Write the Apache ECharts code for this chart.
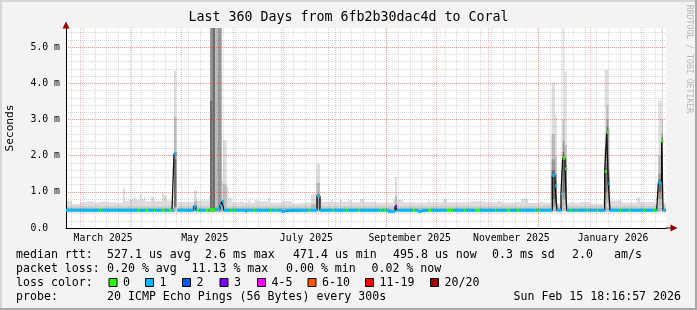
<!DOCTYPE html>
<html><head><meta charset="utf-8">
<script src="https://cdn.jsdelivr.net/npm/echarts@6/dist/echarts.min.js"></script>
<style>html,body{margin:0;padding:0;background:#f3f3f3}#c{width:697px;height:310px}</style>
</head><body><div id="c"></div>
<script>
// ---------- time frame ----------
const DAY = 86400000;
const T0 = Date.UTC(2025, 1, 20, 18, 16, 57);   // start of the 360 day window
const SPAN_DAYS = 360;
const T1 = T0 + SPAN_DAYS * DAY;

// ---------- axis ticks / labels ----------
const monthStarts = ['2025-03-01','2025-04-01','2025-05-01','2025-06-01','2025-07-01','2025-08-01',
  '2025-09-01','2025-10-01','2025-11-01','2025-12-01','2026-01-01','2026-02-01'];
const firstMonday = '2025-02-24';
const xLabelDates = ['2025-03-15','2025-05-15','2025-07-15','2025-09-15','2025-11-15','2026-01-15'];
const xLabels = ['March 2025','May 2025','July 2025','September 2025','November 2025','January 2026'];
const yMax = 5.53; // ms

// ---------- data (days since start, values in ms) ----------
// smoke layers: [dayFrom, dayTo, low, high]
const smokeLight = [
  [0,3.6,0.43,0.75],[3.6,8.4,0.43,0.66],[8.4,12.6,0.43,0.71],[12.6,16.8,0.43,0.74],[16.8,19.8,0.43,0.70],
  [19.8,25.8,0.43,0.73],[25.8,30.6,0.43,0.71],[30.6,34.2,0.43,0.70],[34.2,35.4,0.43,1.09],[35.4,37.8,0.43,0.75],
  [37.8,40.8,0.43,0.79],[40.8,42,0.43,0.84],[42,44.4,0.43,0.78],[44.4,45.3,0.43,0.94],[45.3,46.8,0.43,0.79],
  [46.8,47.7,0.43,0.86],[47.7,51,0.43,0.74],[51,52.8,0.43,0.86],[52.8,57.6,0.43,0.75],[57.6,58.8,0.43,0.97],
  [58.8,60.6,0.43,0.90],[60.6,64.8,0.43,0.76],[64.8,66.2,0.43,4.35],
  [66.9,76.8,0.43,0.72],[76.8,78.6,0.43,1.04],[78.6,85.8,0.43,0.76],[85.8,86.4,0.43,0.9],
  [86.4,93.4,0.43,5.6],[93.4,94.2,0.43,1.3],[94.2,96.4,0.43,2.43],[96.4,97.5,0.43,1.14],[97.5,99.4,0.43,0.84],
  [99.4,104.4,0.43,0.71],[104.4,106.2,0.43,0.74],[106.2,109.2,0.43,0.70],[109.2,110.4,0.43,0.76],
  [110.4,113.4,0.43,0.70],[113.4,114.6,0.43,0.79],[114.6,121.2,0.43,0.74],[121.2,122.4,0.43,0.82],
  [122.4,129.6,0.43,0.70],[129.6,135.6,0.43,0.74],[135.6,142.2,0.43,0.68],[142.2,147,0.43,0.71],
  [147,150.3,0.43,0.94],[150.3,152.4,0.43,1.78],[152.4,153.6,0.43,0.80],[153.6,158.4,0.43,0.72],
  [158.4,160.2,0.43,0.76],[160.2,164.4,0.43,0.72],[164.4,165.6,0.43,0.78],[165.6,169.2,0.43,0.72],
  [169.2,171.6,0.43,0.76],[171.6,176.4,0.43,0.71],[176.4,178.8,0.43,0.80],[178.8,186,0.43,0.72],
  [186,196.2,0.43,0.70],[196.2,197.4,0.43,0.78],[197.4,198.6,0.43,1.42],[198.6,202.2,0.43,0.78],
  [202.2,210.6,0.43,0.71],[210.6,217.2,0.43,0.70],[217.2,218.4,0.43,0.76],[218.4,226.2,0.43,0.71],
  [226.2,228.6,0.43,0.80],[228.6,242.4,0.43,0.71],[242.4,251.4,0.43,0.74],[251.4,258.6,0.43,0.71],
  [258.6,261.6,0.43,0.74],[261.6,270.6,0.43,0.70],[270.6,273,0.43,0.72],[273,277.2,0.43,0.81],
  [277.2,284.4,0.43,0.69],[284.4,286.2,0.43,0.73],[286.2,291.4,0.43,0.69],[291.4,293.4,0.43,4.02],
  [293.4,294.4,0.43,3.13],[294.4,297,0.43,0.69],[297,298,0.43,1.6],[298,299,0.43,5.6],[299,300.4,0.43,4.33],
  [300.4,303,0.43,0.69],[303,304.2,0.43,0.73],[304.2,308.4,0.43,0.69],[308.4,314.4,0.43,0.72],
  [314.4,322.2,0.43,0.67],[322.2,323.2,0.43,0.80],[323.2,325.4,0.43,4.37],[325.4,326.4,0.43,2.76],
  [326.4,333.4,0.43,0.76],[333.4,342.4,0.43,0.70],[342.4,344.4,0.43,0.85],[344.4,353.4,0.43,0.72],
  [353.4,355.4,0.43,0.66],[355.4,357.4,0.43,3.52],[357.4,358.2,0.43,5.6],[358.2,360,0.43,0.70]
];
const smokeMid = [
  [0,66.2,0.46,0.57],[66.9,86.4,0.46,0.57],[93.4,360,0.46,0.57],
  [64.8,66.2,0.5,3.08],[76.8,78.6,0.5,0.75],[94.2,96.4,0.5,1.2],[147,150.3,0.5,0.66],[150.3,152.4,0.5,1.25],
  [197.4,198.6,0.5,0.9],[291.4,293.4,0.5,2.6],[293.4,294.4,0.5,2.0],[297,298,0.5,1.1],[298,299,0.6,3.0],
  [299,300.4,0.6,2.3],[323.2,324.4,0.6,2.2],[324.4,325.4,0.7,3.4],[325.4,326.4,0.6,1.6],
  [355.4,357.4,0.6,2.0],[357.4,358.2,0.8,3.0],[89.4,91,0.45,5.6]
];
const smokeDark = [
  [64.8,66.2,0.55,2.1],[150.3,152.4,0.55,0.95],[291.4,293.4,0.6,1.9],[293.4,294.4,0.6,1.5],
  [298,299,0.8,2.4],[299,300.4,0.8,1.9],[323.2,324.4,0.8,1.8],[324.4,325.4,1.0,3.0],[325.4,326.4,0.8,1.4],
  [355.4,357.4,0.8,1.5],[357.4,358.2,1.2,2.6],[86.4,87.8,0.45,5.6],[91,93.4,0.45,5.6]
];
const smokeDarkest = [
  [64.8,66.2,0.6,1.9],[291.4,293.4,0.8,1.6],[293.4,294.4,0.7,1.3],[298,299,1.0,2.1],[299,300.4,1.0,1.75],
  [323.2,324.4,1.0,1.65],[324.4,325.4,1.2,2.8],[355.4,357.4,1.0,1.35],[357.4,358.2,1.6,2.5],
  [86.4,87.8,0.5,3.52],[87.8,89.4,0.45,5.6]
];
// median breakpoints: [day, median ms (null = no data), loss colour index] held until next breakpoint
const medianPts = [
  [0,0.49,1],[20.4,0.49,0],[21.3,0.49,1],[43.2,0.49,0],[44.2,0.49,1],[47.6,0.49,0],[49.2,0.49,1],
  [52.6,0.49,0],[53.6,0.49,1],[57.6,0.49,0],[59.2,0.49,1],[61.6,0.49,0],[63.6,0.49,1],
  [64.8,2.05,1],[66.2,null,1],[66.9,0.49,1],[76.6,0.6,1],[78,0.49,1],[78.6,0.49,0],[80,0.49,1],
  [83.6,0.49,0],[85.6,0.49,1],[86.4,0.5,0],[89.4,0.52,1],[92.4,0.62,1],[93.6,0.73,1],[94.8,0.49,1],
  [98.4,0.49,0],[99.4,0.49,1],[100.4,0.49,0],[101.4,0.49,1],[107.4,0.46,1],[108.4,0.49,1],
  [112.4,0.49,0],[113.4,0.49,1],[122.4,0.49,0],[123.4,0.49,1],[125.4,0.49,0],[126.4,0.49,1],
  [129.4,0.46,1],[131.4,0.49,1],[145.4,0.49,0],[146.4,0.49,1],[150.6,0.88,1],[152.4,0.49,1],
  [159.8,0.49,0],[160.8,0.49,1],[168,0.49,0],[168.9,0.49,1],[175.4,0.49,0],[176.4,0.49,1],
  [188.4,0.49,0],[189.4,0.49,1],[190.8,0.49,0],[192,0.49,1],[193.2,0.46,1],[197.4,0.6,3],[198.6,0.49,1],
  [208,0.49,0],[209.4,0.49,1],[211.2,0.46,1],[213.6,0.49,1],[217.4,0.49,0],[219.4,0.49,1],
  [228.4,0.49,0],[232.4,0.49,1],[238.4,0.49,0],[239.4,0.49,1],[245.4,0.49,0],[248.4,0.49,1],
  [257.4,0.49,0],[258.4,0.49,1],[264.4,0.49,0],[266.4,0.49,1],[270.4,0.49,0],[272,0.49,1],
  [281.4,0.49,0],[282.4,0.49,1],[283.4,0.49,0],[284.4,0.49,1],
  [291.8,1.45,1],[293.4,1.17,1],[294.6,0.49,1],[297,0.95,1],[298,1.93,0],[299.4,1.64,0],[300.4,0.49,1],
  [302.4,0.49,0],[303.4,0.49,1],[306.4,0.49,0],[307.4,0.49,1],[312.4,0.49,0],[313.4,0.49,1],
  [318.4,0.49,0],[319.4,0.49,1],[323.2,1.56,0],[324.4,2.64,0],[325.4,1.24,1],[326.4,0.49,1],
  [332.4,0.49,0],[333.4,0.49,1],[337.4,0.49,0],[338.4,0.49,1],[346.4,0.49,0],[347.4,0.49,1],
  [352.4,0.49,0],[353.4,0.49,1],[354.4,0.49,0],[355,0.49,1],[355.4,1.25,1],[357.4,2.39,0],[358.2,0.49,1]
];

// ---------- legend ----------
const titleText = 'Last 360 Days from 6fb2b30dac4d to Coral';
const rttStats = ['527.1 us avg','2.6 ms max','471.4 us min','495.8 us now','0.3 ms sd','2.0','am/s'];
const lossStats = ['0.20 % avg','11.13 % max','0.00 % min','0.02 % now'];
const lossLabels = ['0','1','2','3','4-5','6-10','11-19','20/20'];
const lossColors = ['#26ff00','#00b8ff','#0059ff','#7e00ff','#ff00ff','#ff5500','#ff0000','#a10000'];
const probeText = '20 ICMP Echo Pings (56 Bytes) every 300s';
const dateText = 'Sun Feb 15 18:16:57 2026';

// ---------- layout ----------
const rttX = [107,205,293,393,492,572,614];
const lossX = [107,191.5,286,371.5];
const swatchX = [108.5,145,182,219.5,257,307.5,365,430];
const rowY = [255,269,283,297];
const MONO = '"DejaVu Sans Mono", monospace';
const toT = d => T0 + d * DAY;

const labelTs = xLabelDates.map(s => Date.parse(s));
const monthTs = monthStarts.map(s => Date.parse(s));
const weekTs = [];
for (let t = Date.parse(firstMonday); t < T1; t += 7 * DAY) weekTs.push(t);

function rectSeries(items, color, z) {
  return {
    type: 'custom', z, silent: true, animation: false,
    data: items.map(s => [toT(s[0]), toT(s[1]), s[2], s[3]]),
    encode: { x: [0, 1], y: [2, 3] },
    renderItem(params, api) {
      const a = api.coord([api.value(0), api.value(2)]);
      const b = api.coord([api.value(1), api.value(3)]);
      const cs = params.coordSys;
      const shape = echarts.graphic.clipRectByRect(
        { x: a[0], y: b[1], width: b[0] - a[0], height: a[1] - b[1] },
        { x: cs.x, y: cs.y, width: cs.width, height: cs.height });
      return shape ? { type: 'rect', shape, style: { fill: color } } : null;
    }
  };
}
function vGridSeries(ts, color, z) {
  return {
    type: 'custom', z, silent: true, animation: false,
    data: ts.map(t => [t, 0]), encode: { x: 0, y: 1 },
    renderItem(params, api) {
      const cs = params.coordSys;
      const x = Math.round(api.coord([api.value(0), 0])[0]) + 0.5;
      return { type: 'line', shape: { x1: x, y1: cs.y, x2: x, y2: cs.y + cs.height },
        style: { stroke: color, lineWidth: 1, lineDash: [1, 1] } };
    }
  };
}

// median segments and line
const medSegs = [];
medianPts.forEach((p, i) => {
  if (p[1] == null) return;
  const end = i + 1 < medianPts.length ? medianPts[i + 1][0] : SPAN_DAYS;
  medSegs.push([toT(p[0]), toT(end), p[1], p[2]]);
});
const medLine = [];
medianPts.forEach((p, i) => {
  if (p[1] == null) {
    medLine.push([toT(p[0]), medianPts[i - 1][1]]);
    medLine.push([toT(p[0]), null]);
  } else medLine.push([toT(p[0]), p[1]]);
});
medLine.push([T1, medianPts[medianPts.length - 1][1]]);

// ---------- graphics (text) ----------
const font = '11.6px ' + MONO;
const g = [];
function txt(text, x, y, align) {
  g.push({ type: 'text', x, y, silent: true, z: 100,
    style: { text, font, fill: '#000', align: align || 'left', verticalAlign: 'middle',
      textAlign: align || 'left', textVerticalAlign: 'middle' } });
}
g.push({ type: 'rect', shape: { x: 0, y: 0, width: 697, height: 2 }, style: { fill: '#d6d6d6' }, silent: true });
g.push({ type: 'rect', shape: { x: 0, y: 0, width: 2, height: 310 }, style: { fill: '#d6d6d6' }, silent: true });
g.push({ type: 'rect', shape: { x: 0, y: 308, width: 697, height: 2 }, style: { fill: '#a8a8a8' }, silent: true });
g.push({ type: 'rect', shape: { x: 695, y: 0, width: 2, height: 310 }, style: { fill: '#a8a8a8' }, silent: true });
g.push({ type: 'text', x: 348.5, y: 18, silent: true,
  style: { text: titleText, font: '13.3px ' + MONO, fill: '#000', align: 'center', verticalAlign: 'middle',
    textAlign: 'center', textVerticalAlign: 'middle' } });
g.push({ type: 'text', x: 10, y: 128, rotation: Math.PI / 2, silent: true,
  style: { text: 'Seconds', font: '11.2px ' + MONO, fill: '#000', align: 'center', verticalAlign: 'middle',
    textAlign: 'center', textVerticalAlign: 'middle' } });
g.push({ type: 'text', x: 689, y: 59, rotation: -Math.PI / 2, silent: true,
  style: { text: 'RRDTOOL / TOBI OETIKER', font: '8.2px ' + MONO, fill: '#b8b8b8', align: 'center',
    verticalAlign: 'middle', textAlign: 'center', textVerticalAlign: 'middle' } });
txt('median rtt:', 16, rowY[0]);
rttStats.forEach((s, i) => txt(s, rttX[i], rowY[0]));
txt('packet loss:', 16, rowY[1]);
lossStats.forEach((s, i) => txt(s, lossX[i], rowY[1]));
txt('loss color:', 16, rowY[2]);
lossLabels.forEach((s, i) => {
  g.push({ type: 'rect', silent: true, z: 100,
    shape: { x: swatchX[i] + 0.5, y: rowY[2] - 4.5, width: 8, height: 8 },
    style: { fill: lossColors[i], stroke: '#000', lineWidth: 1 } });
  txt(s, swatchX[i] + 14.5, rowY[2]);
});
txt('probe:', 16, rowY[3]);
txt(probeText, 107, rowY[3]);
txt(dateText, 681, rowY[3], 'right');

const chart = echarts.init(document.getElementById('c'), null, { renderer: 'canvas', width: 697, height: 310 });
chart.setOption({
  animation: false,
  backgroundColor: '#f3f3f3',
  grid: { left: 66, top: 28, width: 600, height: 200, containLabel: false, outerBoundsMode: 'none',
    show: true, backgroundColor: '#ffffff', borderWidth: 0 },
  graphic: g,
  xAxis: [
    { type: 'value', min: T0, max: T1, z: 10,
      axisLine: { show: true, onZero: false, lineStyle: { color: '#000', width: 1 },
        symbol: ['none', 'rect'], symbolSize: [1, 6], symbolOffset: [0, 3] },
      axisTick: { show: false }, splitLine: { show: false }, minorTick: { show: false },
      axisLabel: { customValues: labelTs, formatter: v => xLabels[labelTs.indexOf(v)] || '',
        color: '#000', fontFamily: MONO, fontSize: 9.8, margin: 5, hideOverlap: false,
        showMinLabel: true, showMaxLabel: true } },
    { type: 'value', min: T0, max: T1, position: 'bottom', z: 11,
      axisLine: { show: true, onZero: false, symbol: ['none', 'triangle'], symbolSize: [7, 7], symbolOffset: [0, 8],
        lineStyle: { color: '#9a0000', width: 0 } },
      axisTick: { show: false }, axisLabel: { show: false }, splitLine: { show: false } }
  ],
  yAxis: [
    { type: 'value', min: 0, max: yMax, interval: 1, z: 10,
      axisLine: { show: true, onZero: false, lineStyle: { color: '#000', width: 1 },
        symbol: ['none', 'rect'], symbolSize: [1, 4], symbolOffset: [0, 2] },
      axisTick: { show: false },
      axisLabel: { formatter: v => v === 0 ? '0.0  ' : v.toFixed(1) + ' m', color: '#000', fontFamily: MONO,
        fontSize: 9.8, margin: 6, showMaxLabel: false },
      splitLine: { show: true, showMinLine: false, showMaxLine: false,
        lineStyle: { color: 'rgba(255,0,0,0.27)', width: 1, type: [1, 1] } } },
    { type: 'value', min: 0, max: yMax, interval: 0.2, z: 9, position: 'left',
      axisLine: { show: false }, axisTick: { show: false }, axisLabel: { show: false },
      splitLine: { show: true, showMinLine: false, showMaxLine: false,
        lineStyle: { color: 'rgba(128,128,128,0.3)', width: 1, type: [1, 1] } } },
    { type: 'value', min: 0, max: yMax, position: 'left', z: 11,
      axisLine: { show: true, onZero: false, symbol: ['none', 'triangle'], symbolSize: [7, 7], symbolOffset: [0, 3],
        lineStyle: { color: '#9a0000', width: 0 } },
      axisTick: { show: false }, axisLabel: { show: false }, splitLine: { show: false } }
  ],
  series: [
    rectSeries(smokeLight, '#dddddd', 2),
    rectSeries(smokeMid, '#bbbbbb', 3),
    rectSeries(smokeDark, '#999999', 4),
    rectSeries(smokeDarkest, '#6e6e6e', 5),
    vGridSeries(weekTs, 'rgba(128,128,128,0.3)', 9),
    vGridSeries(monthTs, 'rgba(255,0,0,0.27)', 9),
    { type: 'line', data: medLine, step: 'end', showSymbol: false, symbol: 'none', connectNulls: false,
      lineStyle: { color: '#111', width: 1.3 }, z: 11, silent: true, animation: false },
    { type: 'custom', z: 12, silent: true, animation: false, data: medSegs, encode: { x: [0, 1], y: 2 },
      renderItem(params, api) {
        const a = api.coord([api.value(0), api.value(2)]);
        const b = api.coord([api.value(1), api.value(2)]);
        return { type: 'rect', shape: { x: a[0], y: a[1] - 1.5, width: b[0] - a[0], height: 3 },
          style: { fill: lossColors[api.value(3)] } };
      } }
  ]
});
</script></body></html>
